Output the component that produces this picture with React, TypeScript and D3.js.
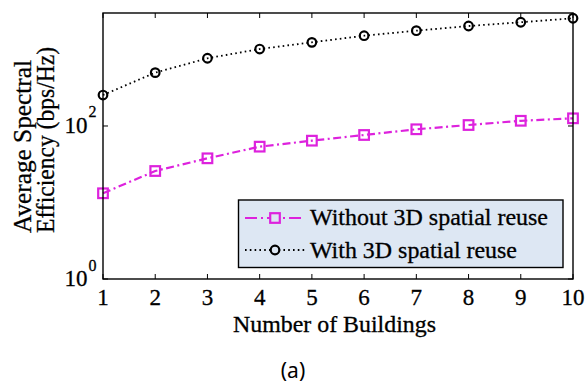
import React from "react";
import * as d3 from "d3";

// Number of buildings on the x axis
const buildings = [1, 2, 3, 4, 5, 6, 7, 8, 9, 10];
// Average spectral efficiency (bps/Hz), log scale
const withoutReuse = [13.2, 25.8, 37.8, 53.7, 64.3, 76.3, 90.6, 103, 117, 126];
const withReuse = [254, 498, 768, 1014, 1241, 1514, 1762, 2028, 2270, 2560];
const yTickExponents = [0, 2];
const legendLabels = ["Without 3D spatial reuse", "With 3D spatial reuse"];
const xTitle = "Number of Buildings";
const yTitleLines = ["Average Spectral", "Efficiency (bps/Hz)"];

const W = 585;
const H = 385;
const plot = { left: 103, right: 573, top: 13, bottom: 279 };
const MAGENTA = "#dd22dd";
const LEGEND_FILL = "#dde7f3";
const serif = { fontFamily: "Liberation Serif, Times New Roman, Times, serif" };
// a touch of outline so the serif text reads as heavy as printed figure text
const ink = { stroke: "#000", strokeWidth: 0.3 };

export default function App() {
  const x = d3.scaleLinear().domain([1, 10]).range([plot.left, plot.right]);
  const y = d3.scaleLog().domain([1, 3000]).range([plot.bottom, plot.top]);

  const line = d3
    .line<number>()
    .x((_, i) => x(buildings[i]))
    .y((d) => y(d));

  const tickLen = 5;

  return (
    <svg
      width={W}
      height={H}
      style={{ position: "absolute", left: 0, top: 0, background: "#fff" }}
    >
      {/* series */}
      <path
        d={line(withReuse) || ""}
        fill="none"
        stroke="#000"
        strokeWidth={1.8}
        strokeDasharray="1.6,3.2"
      />
      <path
        d={line(withoutReuse) || ""}
        fill="none"
        stroke={MAGENTA}
        strokeWidth={2.2}
        strokeDasharray="8,3.5,2,3.5"
      />
      {withReuse.map((v, i) => (
        <circle
          key={"c" + i}
          cx={x(buildings[i])}
          cy={y(v)}
          r={4.3}
          fill="none"
          stroke="#000"
          strokeWidth={2.2}
        />
      ))}
      {withoutReuse.map((v, i) => (
        <rect
          key={"s" + i}
          x={x(buildings[i]) - 4.8}
          y={y(v) - 4.8}
          width={9.6}
          height={9.6}
          fill="none"
          stroke={MAGENTA}
          strokeWidth={2.2}
        />
      ))}

      {/* axes box */}
      <rect
        x={plot.left}
        y={plot.top}
        width={plot.right - plot.left}
        height={plot.bottom - plot.top}
        fill="none"
        stroke="#000"
        strokeWidth={1.4}
      />
      {buildings.map((b) => (
        <g key={"xt" + b}>
          <line x1={x(b)} x2={x(b)} y1={plot.bottom} y2={plot.bottom - tickLen} stroke="#000" />
          <line x1={x(b)} x2={x(b)} y1={plot.top} y2={plot.top + tickLen} stroke="#000" />
          <text x={x(b)} y={305} textAnchor="middle" fontSize={23} style={serif} {...ink}>
            {b}
          </text>
        </g>
      ))}
      {yTickExponents.map((e) => {
        const yy = y(Math.pow(10, e));
        return (
          <g key={"yt" + e}>
            <line x1={plot.left} x2={plot.left + tickLen} y1={yy} y2={yy} stroke="#000" />
            <line x1={plot.right} x2={plot.right - tickLen} y1={yy} y2={yy} stroke="#000" />
            <text x={87.5} y={yy + 7} textAnchor="end" fontSize={23} style={serif} {...ink}>
              10
            </text>
            <text x={88.5} y={yy - 8.5} textAnchor="start" fontSize={16} style={serif} {...ink}>
              {e}
            </text>
          </g>
        );
      })}

      {/* axis titles */}
      <text
        x={334.5}
        y={332}
        textAnchor="middle"
        fontSize={23}
        textLength={203}
        lengthAdjust="spacingAndGlyphs"
        style={serif}
        {...ink}
      >
        {xTitle}
      </text>
      <text
        transform="translate(31,146.5) rotate(-90)"
        textAnchor="middle"
        fontSize={26}
        textLength={173}
        lengthAdjust="spacingAndGlyphs"
        style={serif}
        {...ink}
      >
        {yTitleLines[0]}
      </text>
      <text
        transform="translate(53.5,140) rotate(-90)"
        textAnchor="middle"
        fontSize={26}
        textLength={186}
        lengthAdjust="spacingAndGlyphs"
        style={serif}
        {...ink}
      >
        {yTitleLines[1]}
      </text>

      {/* legend */}
      <rect x={238.5} y={200} width={324.5} height={67.5} fill={LEGEND_FILL} stroke="#000" strokeWidth={1.4} />
      <line
        x1={245}
        x2={305}
        y1={218}
        y2={218}
        stroke={MAGENTA}
        strokeWidth={2.2}
        strokeDasharray="12,4,2,4"
      />
      <rect x={270.2} y={213.2} width={9.6} height={9.6} fill={LEGEND_FILL} stroke={MAGENTA} strokeWidth={2.2} />
      <text
        x={310}
        y={225}
        fontSize={23}
        textLength={238}
        lengthAdjust="spacingAndGlyphs"
        style={serif}
        {...ink}
      >
        {legendLabels[0]}
      </text>
      <line
        x1={245}
        x2={305}
        y1={250}
        y2={250}
        stroke="#000"
        strokeWidth={1.8}
        strokeDasharray="1.6,3.2"
      />
      <circle cx={275} cy={250} r={4.3} fill={LEGEND_FILL} stroke="#000" strokeWidth={2.2} />
      <text
        x={310}
        y={258}
        fontSize={23}
        textLength={207}
        lengthAdjust="spacingAndGlyphs"
        style={serif}
        {...ink}
      >
        {legendLabels[1]}
      </text>

      <text
        x={293}
        y={378}
        textAnchor="middle"
        fontSize={21}
        style={{ fontFamily: "Noto Sans, DejaVu Sans, sans-serif" }}
      >
        (a)
      </text>
    </svg>
  );
}
